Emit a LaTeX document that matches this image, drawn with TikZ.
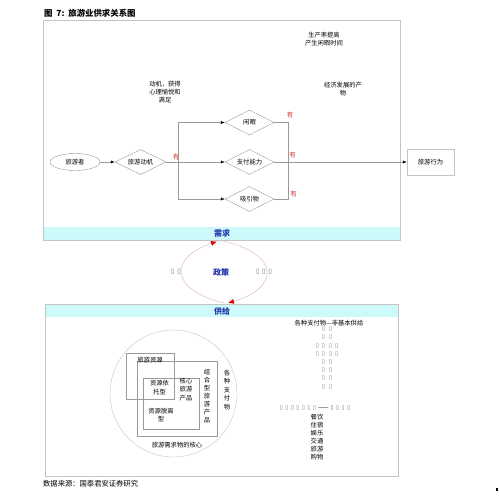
\documentclass[tikz,border=0pt]{standalone}
\usepackage{fontspec}
\setmainfont{Noto Sans CJK SC}
\newfontfamily\dejavu{DejaVu Sans}
\usetikzlibrary{shapes.geometric,arrows.meta}
\definecolor{bandcyan}{HTML}{CCFAFA}
\definecolor{bandblue}{HTML}{2233AA}
\definecolor{youred}{HTML}{CC3333}
\definecolor{framegray}{HTML}{C4C4C4}
\definecolor{linegray}{HTML}{9A9A9A}
\definecolor{loopink}{HTML}{EBC2C2}
\definecolor{tofugray}{HTML}{707070}
\newcommand\tf{{\dejavu\textcolor{tofugray}{▯}}}
\begin{document}
\begin{tikzpicture}[x=1pt,y=-1pt,
  txt/.style={font=\fontsize{6.3}{8.3}\selectfont, inner sep=0, align=center},
  dia/.style={diamond, draw=linegray, minimum width=49pt, minimum height=25pt, inner sep=0, aspect=2, font=\fontsize{6.3}{8}\selectfont},
  arr/.style={draw=linegray, -{Latex[length=4pt,width=3pt,color=black]}},
  conn/.style={draw=linegray},
  you/.style={text=youred, inner sep=0, font=\fontsize{6.5}{8}\selectfont},
  frame/.style={draw=framegray, line width=0.9pt},
  band/.style={fill=bandcyan, draw=none},
  bandtxt/.style={text=bandblue, inner sep=0, font=\fontsize{8}{9}\selectfont\bfseries},
  box/.style={draw=linegray, anchor=north west, inner sep=0},
  tofu/.style={inner sep=0, font=\fontsize{5.5}{8.2}\selectfont, align=center},
  loopl/.style={draw=loopink, line width=0.6pt, -{Latex[length=6pt,width=5pt,color=red!85!black]}}
]
\useasboundingbox (0,0) rectangle (499,496);

% title
\node[anchor=west, inner sep=0, font=\fontsize{8.4}{9}\selectfont\bfseries] (title) at (44,13) {图\ \ 7:\ \ 旅游业供求关系图};

% upper frame and band
\path[band] (43,227) rectangle (400,240);
\draw[frame] (43,20) rectangle (400,240);
\node[bandtxt] (demand) at (222,233.5) {需求};

% upper texts
\node[txt] (motivtxt) at (165,92) {动机，获得\\心理愉悦和\\满足};
\node[txt] (prodtxt) at (324,39) {生产率提高\\产生闲暇时间};
\node[txt] (econtxt) at (343,89) {经济发展的产\\物};

% nodes
\node[ellipse, draw=linegray, minimum width=50pt, minimum height=17pt, inner sep=0, font=\fontsize{6.3}{8}\selectfont] (tourist) at (75,162) {旅游者};
\node[dia, minimum width=51pt] (motive) at (140.5,162) {旅游动机};
\node[dia] (leisure) at (249.5,122.5) {闲暇};
\node[dia] (pay) at (249.5,162) {支付能力};
\node[dia] (attr) at (249.5,199) {吸引物};
\node[draw=framegray, minimum width=47pt, minimum height=26pt, inner sep=0, font=\fontsize{6.3}{8}\selectfont] (act) at (430.5,162) {旅游行为};

\coordinate (j1) at (178,162);
\coordinate (j2) at (288,162);

\draw[arr] (tourist) -- (motive);
\draw[conn] (motive.east) -- (j1);
\draw[arr] (j1) |- (leisure.west);
\draw[arr] (j1) -- (pay.west);
\draw[arr] (j1) |- (attr.west);
\draw[conn] (leisure.east) -| (j2);
\draw[conn] (attr.east) -| (j2);
\draw[conn] (pay.east) -- (j2);
\draw[arr] (j2) -- (act.west);

\node[you] (y0) at (176,157) {有};
\node[you] (y1) at (290,115) {有};
\node[you] (y2) at (292.5,155) {有};
\node[you] (y3) at (293.5,194) {有};

% policy loop
\node[txt, font=\fontsize{6.5}{8}\selectfont] (ql) at (176,272) {\tf\hspace{2.5pt}\tf};
\node[bandtxt] (policy) at (221,272) {政策};
\node[txt, font=\fontsize{6.5}{8}\selectfont] (qr) at (264,272) {\tf\hspace{2.5pt}\tf\hspace{2.5pt}\tf};
\coordinate (lb) at (224,303);
\coordinate (lt) at (217,241.5);
\coordinate (rt) at (223,241);
\coordinate (rb) at (228,303);
\draw[loopl] (lb) .. controls (170,290) and (168,258) .. (lt);
\draw[loopl] (rt) .. controls (280,254) and (280,288) .. (rb);

% lower frame and band
\path[band] (45,304) rectangle (398,317);
\draw[frame] (45,304) rectangle (398,476);
\node[bandtxt] (supply) at (222,311) {供给};

% core circle and boxes
\node[circle, draw=framegray, minimum size=127pt, inner sep=0] (core) at (173.5,393.5) {};
\node[box, minimum width=48pt, minimum height=46pt] (resbox) at (126,353) {};
\node[box, minimum width=80pt, minimum height=75pt] (combbox) at (137,361) {};
\node[box, minimum width=56pt, minimum height=51pt] (corebox) at (143,378) {};
\node[txt] (restxt) at (150,360) {旅游资源};
\node[txt] (rely) at (159.5,387.5) {资源依\\托型};
\node[txt] (detach) at (161,415) {资源脱离\\型};
\node[txt, font=\fontsize{6.3}{8.5}\selectfont] (coreprod) at (186,389.5) {核心\\旅游\\产品};
\node[txt, font=\fontsize{6.3}{8}\selectfont] (combprod) at (207,396) {组\\合\\型\\旅\\游\\产\\品};
\node[txt, font=\fontsize{6.3}{8.5}\selectfont] (paythings) at (227,390) {各\\种\\支\\付\\物};
\node[txt] (coretxt) at (177,445) {旅游需求物的核心};

% right lower texts
\node[txt] (nonbasic) at (329,323) {各种支付物—非基本供给};
\node[tofu] (t1) at (327,358) {\tf\hspace{4pt}\tf\\\tf\hspace{4pt}\tf\\\tf\hspace{3pt}\tf\hspace{4pt}\tf\hspace{3pt}\tf\\\tf\hspace{3pt}\tf\hspace{4pt}\tf\hspace{3pt}\tf\\\tf\hspace{4pt}\tf\\\tf\hspace{4pt}\tf\\\tf\hspace{4pt}\tf\\\tf\hspace{4pt}\tf};
\node[tofu] (t2) at (315,408) {\tf\hspace{2.5pt}\tf\hspace{2.5pt}\tf\hspace{2.5pt}\tf\hspace{2.5pt}\tf\hspace{2.5pt}\tf\hspace{2.5pt}\tf\hspace{2pt}{\fontsize{6.3}{8}\selectfont ——}\hspace{2pt}\tf\hspace{2.5pt}\tf\hspace{2.5pt}\tf\hspace{2.5pt}\tf};
\node[txt, font=\fontsize{6.3}{8}\selectfont] (basic) at (317,437) {餐饮\\住宿\\娱乐\\交通\\旅游\\购物};

% source
\node[anchor=west, inner sep=0, font=\fontsize{7.3}{8}\selectfont] (source) at (43,483.5) {数据来源：国泰君安证券研究};
\fill (496,488) rectangle (498,491);
\end{tikzpicture}
\end{document}
